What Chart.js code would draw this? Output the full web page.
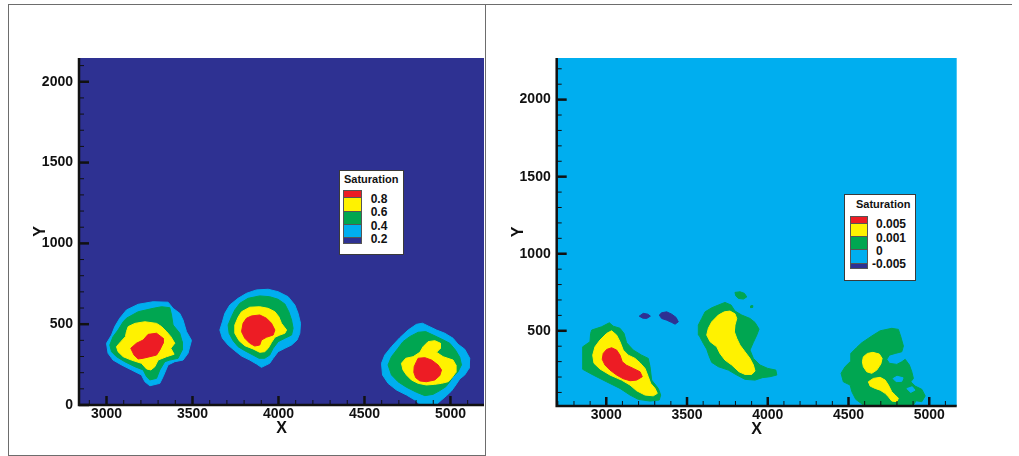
<!DOCTYPE html>
<html>
<head>
<meta charset="utf-8">
<script src="https://cdn.jsdelivr.net/npm/chart.js@4.4.1/dist/chart.umd.min.js"></script>
<style>
body { margin:0; background:#fff; width:1019px; height:456px; overflow:hidden; position:relative; font-family:'Liberation Sans', Arial, sans-serif; }
.frame { position:absolute; border:1px solid #6d6d6d; }
.wrap { position:absolute; top:0; height:456px; }
.legend { position:absolute; background:#fff; border:1px solid #3a3a3a; box-sizing:border-box; }
.txt { position:absolute; font-weight:bold; color:#111; white-space:nowrap; line-height:1; }
.sw { position:absolute; box-sizing:border-box; border-top:1px solid #555; }
</style>
</head>
<body>
<div class="frame" style="left:8px;top:4px;width:476px;height:450px;"></div>
<div class="frame" style="left:486px;top:4px;width:526px;height:0;border-width:1px 0 0 0;"></div>
<div class="wrap" style="left:0;width:488px"><canvas id="satLeft" width="488" height="456"></canvas></div>
<div class="wrap" style="left:490px;width:529px"><canvas id="satRight" width="529" height="456"></canvas></div>

<script>
var NAVY = '#2E3192', CYAN = '#00AEEF', GREEN = '#00A651', YELLOW = '#FFF200', RED = '#ED1C24';

// axis ranges and tick labels
var leftXRange = [2840, 5195];
var leftYRange = [0, 2147];
var rightXRange = [2693, 5170];
var rightYRange = [12, 2270];
var xTicks = [3000, 3500, 4000, 4500, 5000];
var leftYTicks = [0, 500, 1000, 1500, 2000];
var rightYTicks = [500, 1000, 1500, 2000];

// legend
var legendTitle = 'Saturation';
var leftLegendLabels = ['0.8', '0.6', '0.4', '0.2'];
var rightLegendLabels = ['0.005', '0.001', '0', '-0.005'];
var legendColors = [RED, YELLOW, GREEN, CYAN, NAVY];

// left panel contours (x, y)
var leftBlob1Cyan = [[3116,588],[3184,623],[3271,639],[3358,636],[3387,598],[3426,567],[3445,526],[3465,454],[3494,400],[3474,320],[3445,278],[3397,268],[3358,248],[3329,175],[3310,134],[3252,119],[3223,144],[3203,186],[3145,217],[3087,248],[3038,278],[3009,320],[3000,382],[3029,433],[3048,485],[3077,537]];
var leftBlob1Green = [[3116,537],[3184,577],[3271,598],[3320,608],[3368,602],[3378,557],[3387,495],[3426,444],[3440,392],[3440,340],[3416,289],[3368,278],[3339,268],[3310,217],[3291,165],[3252,155],[3233,175],[3213,217],[3165,237],[3106,268],[3058,299],[3029,330],[3019,371],[3038,423],[3067,464],[3097,515]];
var leftBlob1Yellow = [[3126,485],[3165,505],[3223,515],[3291,505],[3320,485],[3349,454],[3374,423],[3397,382],[3374,351],[3393,314],[3349,299],[3300,278],[3281,237],[3258,217],[3233,223],[3203,258],[3145,278],[3097,299],[3067,330],[3058,361],[3083,392],[3110,423],[3116,454]];
var leftBlob1Red = [[3141,351],[3174,382],[3213,402],[3242,437],[3291,444],[3329,413],[3329,382],[3310,340],[3291,309],[3252,299],[3213,289],[3184,285],[3160,309]];

var leftBlob2Cyan = [[3765,660],[3814,691],[3872,712],[3940,716],[3998,701],[4056,670],[4095,619],[4114,567],[4128,506],[4124,444],[4108,402],[4076,371],[4037,351],[3998,330],[3969,289],[3949,258],[3901,233],[3872,254],[3833,278],[3785,303],[3746,336],[3707,371],[3674,413],[3659,464],[3674,515],[3688,567],[3717,619]];
var leftBlob2Green = [[3775,629],[3823,660],[3891,675],[3949,670],[3998,654],[4037,625],[4060,577],[4076,526],[4085,475],[4076,433],[4037,413],[3998,392],[3969,351],[3949,309],[3920,289],[3887,289],[3852,309],[3804,336],[3765,361],[3736,398],[3713,444],[3707,495],[3727,546],[3746,588]];
var leftBlob2Yellow = [[3785,577],[3833,605],[3891,608],[3940,598],[3979,577],[4002,546],[4017,506],[4047,464],[4037,444],[4008,433],[3979,419],[3959,386],[3940,351],[3920,330],[3891,326],[3852,347],[3804,367],[3771,398],[3746,444],[3746,495],[3765,543]];
var leftBlob2Red = [[3794,506],[3814,537],[3843,551],[3891,557],[3930,537],[3959,506],[3979,464],[3969,433],[3930,419],[3901,402],[3891,371],[3862,365],[3833,382],[3804,413],[3785,454]];

var leftBlob3Cyan = [[4754,464],[4802,499],[4837,506],[4870,489],[4919,464],[4967,444],[5015,413],[5044,376],[5083,345],[5112,289],[5108,227],[5083,186],[5054,161],[5031,124],[5006,87],[4977,58],[4948,31],[4919,4],[4919,-100],[4822,-100],[4822,4],[4793,31],[4744,62],[4686,93],[4637,134],[4605,186],[4599,258],[4618,309],[4657,361],[4705,416]];
var leftBlob3Green = [[4724,392],[4763,423],[4812,450],[4856,454],[4899,433],[4948,408],[4996,382],[5029,340],[5054,295],[5064,248],[5044,206],[5015,175],[4996,144],[4973,113],[4938,89],[4899,66],[4851,58],[4802,79],[4744,110],[4695,144],[4657,186],[4637,248],[4657,299],[4695,351]];
var leftBlob3Yellow = [[4715,258],[4740,289],[4783,299],[4822,326],[4841,361],[4870,392],[4909,398],[4942,382],[4942,351],[4919,326],[4957,299],[5015,278],[5031,248],[5031,202],[5006,165],[4986,144],[4948,134],[4909,128],[4860,124],[4812,134],[4773,155],[4744,186],[4724,217]];
var leftBlob3Red = [[4812,289],[4851,293],[4890,278],[4928,248],[4948,217],[4938,182],[4909,155],[4860,144],[4822,149],[4798,169],[4787,202],[4789,237],[4802,268]];

// right panel contours (x, y)
var rightBlob1Green = [[2910,505],[2971,526],[3019,552],[3043,530],[3085,516],[3110,483],[3126,422],[3167,375],[3219,342],[3260,321],[3271,267],[3281,180],[3322,126],[3337,83],[3328,51],[3271,44],[3198,55],[3147,83],[3085,126],[3002,169],[2919,213],[2854,250],[2854,331],[2854,396],[2899,429],[2903,483]];
var rightBlob1Yellow = [[3002,483],[3033,500],[3064,472],[3085,429],[3105,375],[3136,342],[3178,321],[3209,292],[3240,256],[3260,202],[3275,159],[3302,126],[3316,94],[3291,78],[3240,83],[3188,111],[3147,148],[3095,180],[3023,213],[2961,252],[2924,289],[2916,342],[2930,396],[2961,440]];
var rightBlob1Red = [[2981,353],[3002,379],[3033,390],[3064,375],[3085,342],[3099,299],[3126,276],[3167,256],[3209,234],[3223,202],[3188,180],[3147,176],[3105,189],[3064,213],[3023,245],[2992,278],[2975,315]];
var rightNavySmall = [[3204,595],[3229,613],[3257,608],[3273,595],[3250,580],[3226,582]];
var rightNavyLarge = [[3328,602],[3343,617],[3374,623],[3405,608],[3432,587],[3446,558],[3426,543],[3405,554],[3374,569],[3343,580]];

var rightBlob2Green = [[3591,580],[3612,623],[3653,649],[3694,667],[3735,684],[3773,667],[3797,628],[3839,602],[3890,580],[3921,554],[3946,511],[3932,472],[3911,425],[3890,375],[3911,321],[3952,278],[4000,256],[4050,245],[4056,213],[4014,202],[3967,196],[3921,180],[3859,185],[3808,213],[3756,245],[3694,267],[3653,295],[3636,338],[3622,381],[3601,418],[3574,472],[3570,537]];
var rightBlob2Yellow = [[3653,558],[3694,602],[3731,623],[3766,628],[3797,610],[3808,580],[3797,537],[3793,494],[3808,451],[3828,407],[3859,364],[3890,321],[3911,278],[3921,239],[3901,217],[3859,217],[3822,234],[3777,278],[3735,310],[3704,353],[3684,396],[3643,429],[3622,472],[3632,516]];
var rightBlob2Spot = [[3797,749],[3828,753],[3855,743],[3870,720],[3849,706],[3818,710],[3802,727]];
var rightBlob2Dot = [[3895,650],[3908,652],[3907,664],[3896,662]];

var rightBlob3Green = [[4582,422],[4644,466],[4696,500],[4768,516],[4809,509],[4824,461],[4840,401],[4830,364],[4789,353],[4753,342],[4737,315],[4753,289],[4799,282],[4830,299],[4851,315],[4877,278],[4892,234],[4902,191],[4886,169],[4913,141],[4954,120],[4975,77],[4954,40],[4919,46],[4898,12],[4898,-20],[4600,-20],[4600,12],[4545,55],[4521,104],[4510,148],[4468,169],[4454,224],[4479,267],[4510,299],[4514,353],[4551,392]];
var rightBlob3Hole1 = [[4776,190],[4800,205],[4838,195],[4830,172],[4795,170]];
var rightBlob3Hole2 = [[4861,125],[4895,137],[4912,115],[4885,100]];
var rightBlob3YellowTop = [[4592,331],[4617,353],[4651,360],[4691,349],[4708,321],[4700,284],[4675,245],[4644,224],[4613,234],[4592,267],[4586,299]];
var rightBlob3YellowLow = [[4623,169],[4654,191],[4696,198],[4727,180],[4747,148],[4768,104],[4789,83],[4809,62],[4799,40],[4768,44],[4747,72],[4727,94],[4696,115],[4665,126],[4634,141]];

function poly(pts, color, order) {
    var data = pts.map(function(p) { return {x: p[0], y: p[1]}; });
    data.push({x: pts[0][0], y: pts[0][1]});
    return {
        data: data,
        showLine: true,
        fill: 'shape',
        backgroundColor: color,
        borderColor: color,
        borderWidth: 1,
        pointRadius: 0,
        tension: 0,
        order: order
    };
}

var tickFont = {family: "'Liberation Sans', Arial, sans-serif", size: 14, weight: 'bold'};
var titleFont = {family: "'Liberation Sans', Arial, sans-serif", size: 16, weight: 'bold'};

function makeScales(xr, yr, xt, yt, yWidth, xHeight, yTitlePad, xTitlePad) {
    return {
        x: {
            type: 'linear', min: xr[0], max: xr[1],
            grid: {display: false, drawTicks: false}, border: {display: false},
            afterBuildTicks: function(s) { s.ticks = xt.map(function(v) { return {value: v}; }); },
            afterFit: function(s) { s.height = xHeight; s.paddingLeft = 0; s.paddingRight = 0; },
            ticks: {font: tickFont, color: '#111', padding: 1, maxRotation: 0, autoSkip: false,
                    callback: function(v) { return String(v); }},
            title: {display: true, text: 'X', font: titleFont, color: '#111', padding: {top: 0, bottom: xTitlePad}}
        },
        y: {
            type: 'linear', min: yr[0], max: yr[1],
            grid: {display: false, drawTicks: false}, border: {display: false},
            afterBuildTicks: function(s) { s.ticks = yt.map(function(v) { return {value: v}; }); },
            afterFit: function(s) { s.width = yWidth; s.paddingTop = 0; s.paddingBottom = 0; },
            ticks: {font: tickFont, color: '#111', padding: 6, autoSkip: false,
                    callback: function(v) { return String(v); }},
            title: {display: true, text: 'Y', font: titleFont, color: '#111', padding: {top: yTitlePad, bottom: 0}}
        }
    };
}

// plot background, axis lines, major and minor tick marks
var plotFrame = {
    id: 'plotFrame',
    beforeDatasetsDraw: function(chart, args, opts) {
        var a = chart.chartArea, ctx = chart.ctx;
        ctx.save();
        ctx.fillStyle = opts.fill;
        ctx.fillRect(a.left, a.top, a.right - a.left, a.bottom - a.top);
        ctx.restore();
    },
    afterDatasetsDraw: function(chart) {
        var a = chart.chartArea, ctx = chart.ctx, x = chart.scales.x, y = chart.scales.y;
        ctx.save();
        ctx.strokeStyle = '#111';
        var v, p, major;
        for (v = Math.ceil(x.min / 100) * 100; v <= x.max; v += 100) {
            p = x.getPixelForValue(v);
            major = v % 500 === 0;
            ctx.lineWidth = major ? 2.5 : 1;
            ctx.beginPath(); ctx.moveTo(p, a.bottom); ctx.lineTo(p, a.bottom - (major ? 9 : 5)); ctx.stroke();
        }
        for (v = Math.ceil(y.min / 100) * 100; v <= y.max; v += 100) {
            p = y.getPixelForValue(v);
            major = v % 500 === 0;
            ctx.lineWidth = major ? 2.5 : 1;
            ctx.beginPath(); ctx.moveTo(a.left, p); ctx.lineTo(a.left + (major ? 10 : 5), p); ctx.stroke();
        }
        ctx.lineWidth = 2.5;
        ctx.beginPath();
        ctx.moveTo(a.left, a.top); ctx.lineTo(a.left, a.bottom); ctx.lineTo(a.right, a.bottom);
        ctx.stroke();
        ctx.restore();
    }
};

var baseOptions = function(scales, pad, bg) {
    return {
        responsive: false,
        animation: false,
        events: [],
        layout: {padding: pad},
        plugins: {legend: {display: false}, tooltip: {enabled: false}, plotFrame: {fill: bg}},
        scales: scales
    };
};

new Chart(document.getElementById('satLeft').getContext('2d'), {
    type: 'scatter',
    data: {
        datasets: [
            poly(leftBlob1Cyan, CYAN, 4), poly(leftBlob1Green, GREEN, 3), poly(leftBlob1Yellow, YELLOW, 2), poly(leftBlob1Red, RED, 1),
            poly(leftBlob2Cyan, CYAN, 4), poly(leftBlob2Green, GREEN, 3), poly(leftBlob2Yellow, YELLOW, 2), poly(leftBlob2Red, RED, 1),
            poly(leftBlob3Cyan, CYAN, 4), poly(leftBlob3Green, GREEN, 3), poly(leftBlob3Yellow, YELLOW, 2), poly(leftBlob3Red, RED, 1)
        ]
    },
    options: baseOptions(makeScales(leftXRange, leftYRange, xTicks, leftYTicks, 79, 51, 30.9, 17.6),
                         {left: 0, top: 58, right: 4, bottom: 0}, NAVY),
    plugins: [plotFrame]
});

new Chart(document.getElementById('satRight').getContext('2d'), {
    type: 'scatter',
    data: {
        datasets: [
            poly(rightBlob1Green, GREEN, 4), poly(rightBlob1Yellow, YELLOW, 2), poly(rightBlob1Red, RED, 1),
            poly(rightNavySmall, NAVY, 1), poly(rightNavyLarge, NAVY, 1),
            poly(rightBlob2Green, GREEN, 4), poly(rightBlob2Yellow, YELLOW, 2),
            poly(rightBlob2Spot, GREEN, 4), poly(rightBlob2Dot, GREEN, 4),
            poly(rightBlob3Green, GREEN, 4), poly(rightBlob3Hole1, CYAN, 3), poly(rightBlob3Hole2, CYAN, 3),
            poly(rightBlob3YellowTop, YELLOW, 2), poly(rightBlob3YellowLow, YELLOW, 2)
        ]
    },
    options: baseOptions(makeScales(rightXRange, rightYRange, xTicks, rightYTicks, 66.7, 50, 18.7, 16.4),
                         {left: 0, top: 58, right: 62.3, bottom: 0}, CYAN),
    plugins: [plotFrame]
});

// contour legends
function addText(parent, text, left, cy, size) {
    var d = document.createElement('div');
    d.className = 'txt';
    d.textContent = text;
    d.style.fontSize = size + 'px';
    d.style.left = left + 'px';
    d.style.top = (cy - size / 2) + 'px';
    parent.appendChild(d);
}

function buildLegend(spec, labels) {
    var box = document.createElement('div');
    box.className = 'legend';
    box.style.left = spec.left + 'px'; box.style.top = spec.top + 'px';
    box.style.width = spec.w + 'px'; box.style.height = spec.h + 'px';
    document.body.appendChild(box);
    addText(document.body, legendTitle, spec.titleX, spec.titleCy, 11);
    var y = spec.swTop;
    legendColors.forEach(function(c, i) {
        var s = document.createElement('div');
        s.className = 'sw';
        s.style.left = spec.swX + 'px'; s.style.top = y + 'px';
        s.style.width = spec.swW + 'px'; s.style.height = spec.swH[i] + 'px';
        s.style.background = c;
        s.style.borderLeft = s.style.borderRight = '1px solid #555';
        if (i === legendColors.length - 1) s.style.borderBottom = '1px solid #555';
        document.body.appendChild(s);
        y += spec.swH[i];
        if (i < labels.length) {
            var t = labels[i];
            addText(document.body, t, spec.labX - (t.charAt(0) === '-' ? 4 : 0), y + 1.5, 12);
        }
    });
}

buildLegend({left: 338.7, top: 169.7, w: 65.3, h: 85.6, titleX: 344, titleCy: 179,
             swX: 343.3, swW: 18.4, swTop: 190, swH: [7, 13.7, 13.3, 13.3, 7], labX: 370.7}, leftLegendLabels);
buildLegend({left: 844, top: 194.3, w: 72.3, h: 87, titleX: 856, titleCy: 204.3,
             swX: 849.7, swW: 18, swTop: 216, swH: [6.7, 13.3, 13.3, 13.4, 6], labX: 876}, rightLegendLabels);
</script>
</body>
</html>
